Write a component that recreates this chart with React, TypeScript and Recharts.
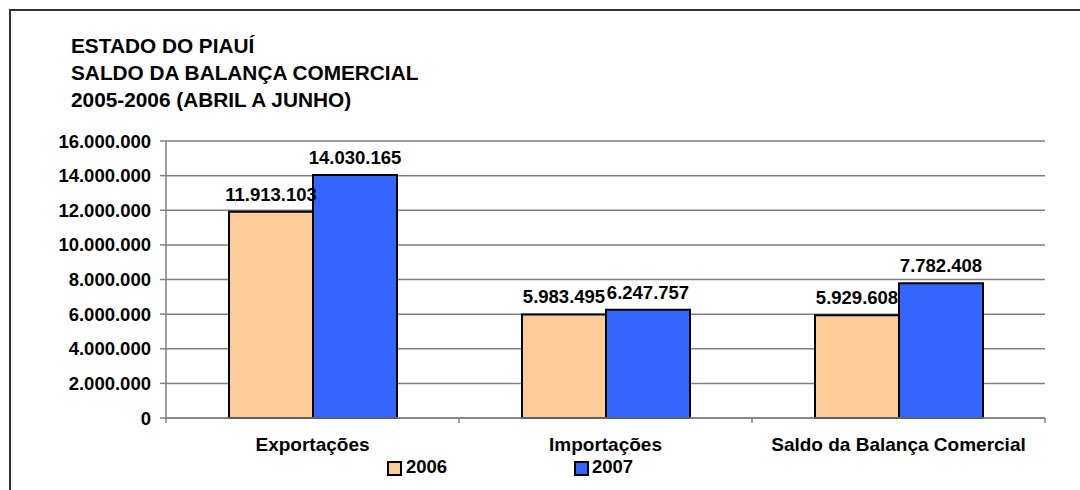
import { BarChart, Bar, XAxis, YAxis, CartesianGrid, LabelList } from 'recharts'

const categories = ['Exportações', 'Importações', 'Saldo da Balança Comercial']
const values2006 = [11913103, 5983495, 5929608]
const values2007 = [14030165, 6247757, 7782408]
const yTicks = [0, 2000000, 4000000, 6000000, 8000000, 10000000, 12000000, 14000000, 16000000]
const titleLines = ['ESTADO DO PIAUÍ', 'SALDO DA BALANÇA COMERCIAL', '2005-2006 (ABRIL A JUNHO)']

const series = [
  { key: 'y2006', name: '2006', fill: '#FFCC99', values: values2006 },
  { key: 'y2007', name: '2007', fill: '#3366FF', values: values2007 },
]

const data = categories.map((name, i) => {
  const row: Record<string, string | number> = { name }
  series.forEach(s => { row[s.key] = s.values[i] })
  return row
})

const FONT = '"Liberation Sans", Arial, sans-serif'
const W = 1080
const H = 490
const MARGIN = { top: 141, right: 35, left: 66, bottom: 42 }
const Y_AXIS_W = 100
const PLOT_W = W - MARGIN.left - Y_AXIS_W - MARGIN.right
const GRID = '#808080'
const LABEL_GAP = 19.5

// thousands separated with dots, pt-BR style
const fmt = (n: number) => String(Math.round(n)).replace(/\B(?=(\d{3})+(?!\d))/g, '.')

// category label plus small tick marks on the band edges
const CategoryTick = (props: any) => {
  const { x, y, payload, index, visibleTicksCount } = props
  const half = PLOT_W / categories.length / 2
  const axisY = y - LABEL_GAP
  const isLast = index === visibleTicksCount - 1
  return (
    <g>
      <line x1={x - half} x2={x - half} y1={axisY} y2={axisY + 5} stroke={GRID} strokeWidth={1.5} />
      {isLast && <line x1={x + half} x2={x + half} y1={axisY} y2={axisY + 5} stroke={GRID} strokeWidth={1.5} />}
      <text x={x} y={y} dy="0.71em" textAnchor="middle" fill="#000"
        style={{ fontFamily: FONT, fontSize: 19, fontWeight: 700 }}>
        {payload.value}
      </text>
    </g>
  )
}

export default function App() {
  return (
    <div style={{ position: 'absolute', left: 0, top: 0, width: W, height: H, background: '#fff', overflow: 'hidden', fontFamily: FONT }}>
      {/* outer frame, only top and left edges fall inside the view */}
      <div style={{ position: 'absolute', left: 9, top: 9, width: W, height: H, border: '2px solid #333', boxSizing: 'border-box' }} />

      <div style={{ position: 'absolute', left: 71, top: 31.5, fontSize: 20.8, fontWeight: 700, lineHeight: '27.2px', color: '#000', whiteSpace: 'nowrap' }}>
        {titleLines.map(t => <div key={t}>{t}</div>)}
      </div>

      <div style={{ position: 'absolute', left: 0, top: 0 }}>
        <BarChart width={W} height={H} data={data} margin={MARGIN} barGap={0} barSize={84}>
          <CartesianGrid horizontal vertical={false} stroke={GRID} strokeWidth={1.5} />
          <XAxis dataKey="name" height={30} axisLine={{ stroke: GRID, strokeWidth: 1.5 }} tickLine={false}
            tickSize={0} tickMargin={LABEL_GAP} interval={0} tick={<CategoryTick />} />
          <YAxis width={Y_AXIS_W} domain={[0, 16000000]} ticks={yTicks} interval={0} tickFormatter={fmt}
            axisLine={{ stroke: GRID, strokeWidth: 1.5 }} tickLine={{ stroke: GRID, strokeWidth: 1.5 }}
            tickSize={6} tickMargin={9}
            tick={{ fill: '#000', fontSize: 18.5, fontWeight: 700, fontFamily: FONT }} />
          {series.map(s => (
            <Bar key={s.key} dataKey={s.key} name={s.name} fill={s.fill} stroke="#000" strokeWidth={2}
              isAnimationActive={false}>
              <LabelList dataKey={s.key} position="top" offset={11} formatter={(v: any) => fmt(Number(v))}
                fill="#000" style={{ fontFamily: FONT, fontSize: 18.5, fontWeight: 700 }} />
            </Bar>
          ))}
        </BarChart>
      </div>

      {/* legend */}
      {series.map((s, i) => (
        <div key={s.key}>
          <div style={{ position: 'absolute', left: 387 + i * 187, top: 461, width: 15, height: 15, boxSizing: 'border-box', border: '2px solid #000', background: s.fill }} />
          <div style={{ position: 'absolute', left: 406 + i * 186, top: 457.6, fontSize: 18.5, lineHeight: 1, fontWeight: 700, color: '#000' }}>{s.name}</div>
        </div>
      ))}
    </div>
  )
}
